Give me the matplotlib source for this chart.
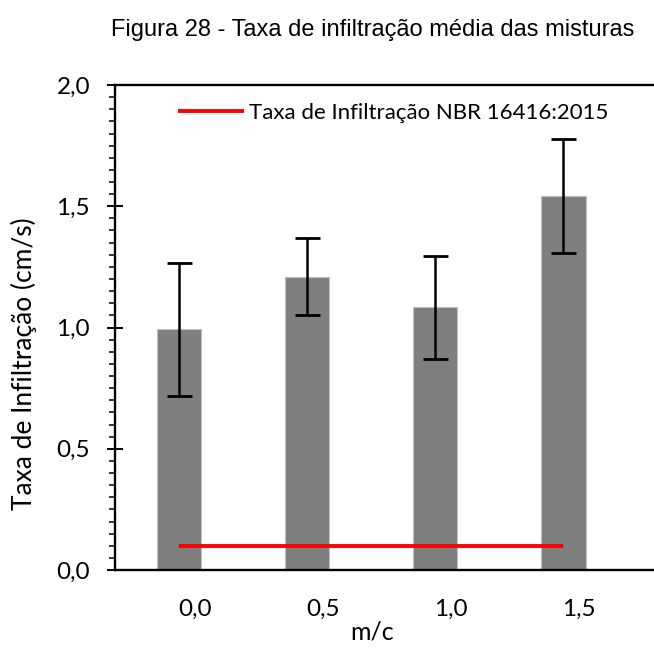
import matplotlib
matplotlib.use("Agg")
import matplotlib.pyplot as plt
from matplotlib.ticker import MultipleLocator, FuncFormatter
from matplotlib.transforms import ScaledTranslation

categories = ["0,0", "0,5", "1,0", "1,5"]
values = [0.993, 1.210, 1.084, 1.542]
errors = [0.275, 0.160, 0.212, 0.235]
nbr_limit = [0.1, 0.1, 0.1, 0.1]

title = "Figura 28 - Taxa de infiltração média das misturas"
ylabel = "Taxa de Infiltração (cm/s)"
xlabel = "m/c"
legend_label = "Taxa de Infiltração NBR 16416:2015"

W, H = 654, 653
fig = plt.figure(figsize=(W / 100, H / 100), dpi=100)
ax = fig.add_axes([115 / W, 1 - 570 / H, (654 - 115) / W, (570 - 85) / H])

x = list(range(len(categories)))
ax.bar(x, values, width=0.35, color="#7f7f7f", edgecolor="#c0c0c0", linewidth=0.8, zorder=2)
ax.errorbar(x, values, yerr=errors, fmt="none", ecolor="black", elinewidth=1.8,
            capsize=9, capthick=2.0, zorder=3)
ax.plot(x, nbr_limit, color="#595959", linewidth=1.2, zorder=3.5,
        solid_capstyle="projecting", dash_capstyle="projecting")
line, = ax.plot(x, nbr_limit, color="#ff0000", linewidth=2.8, zorder=4,
                solid_capstyle="butt", label=legend_label)

ax.set_ylim(0, 2.0)
ax.set_xlim(-0.5, 3.71)
ax.yaxis.set_major_locator(MultipleLocator(0.5))
ax.yaxis.set_minor_locator(MultipleLocator(0.05))
ax.yaxis.set_major_formatter(FuncFormatter(lambda v, p: f"{v:.1f}".replace(".", ",")))
ax.tick_params(axis="y", which="major", direction="inout", length=12, width=1.4,
               labelsize=17.5, pad=12)
ax.tick_params(axis="y", which="minor", direction="out", length=4, width=1.1)
ax.set_xticks(x)
ax.set_xticklabels(categories)
ax.tick_params(axis="x", which="both", length=0, labelsize=17.5, pad=21)
off = ScaledTranslation(16 / 100, 0, fig.dpi_scale_trans)
for lab in ax.get_xticklabels():
    lab.set_fontfamily("Lato")
    lab.set_transform(lab.get_transform() + off)
for lab in ax.get_yticklabels():
    lab.set_fontfamily("Lato")

for s in ["left", "top", "bottom"]:
    ax.spines[s].set_linewidth(1.7)
    ax.spines[s].set_color("black")
ax.spines["right"].set_visible(False)

ax.set_ylabel(ylabel, fontsize=19, family="Lato")
ax.yaxis.set_label_coords((24 - 115) / 539, (570 - 364) / 485)
ax.set_xlabel(xlabel, fontsize=18, family="Lato")
ax.xaxis.set_label_coords((372 - 115) / 539, -(632 - 570) / 485)
ax.xaxis.label.set_va("center")
ax.yaxis.label.set_va("center")

leg = ax.legend(handles=[line], loc="center left",
                bbox_to_anchor=((178 - 115) / 539, (570 - 113) / 485),
                frameon=False, prop={"family": "Lato", "size": 16},
                handlelength=2.95, handletextpad=0.25, borderpad=0, borderaxespad=0)

fig.text(373 / W, 1 - 30 / H, title, ha="center", va="center", fontsize=17,
         family="Liberation Sans")

fig.savefig("out.png", dpi=100)
